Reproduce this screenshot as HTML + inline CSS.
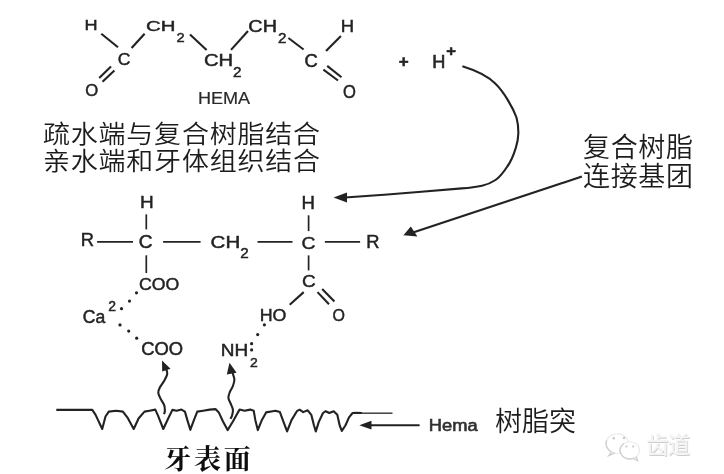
<!DOCTYPE html>
<html><head><meta charset="utf-8">
<style>
html,body{margin:0;padding:0;background:#fff;}
svg{display:block}
.t{font-family:"Liberation Sans",sans-serif;font-size:17px;fill:#2a2a2a;}
.s{font-family:"Liberation Sans",sans-serif;font-size:14px;fill:#2a2a2a;}
.cj{font-family:"Liberation Sans","Noto Sans CJK SC",sans-serif;font-weight:350;fill:#1c1c1c;}
.l{stroke:#222;stroke-width:2.1;fill:none;stroke-linecap:butt}
.d{fill:#222}
</style></head>
<body>
<svg width="724" height="474" viewBox="0 0 724 474">
<defs><filter id="bl" x="0" y="0" width="724" height="474" filterUnits="userSpaceOnUse"><feGaussianBlur stdDeviation="0.45"/></filter><filter id="bl2" x="0" y="0" width="724" height="474" filterUnits="userSpaceOnUse"><feGaussianBlur stdDeviation="0.25"/></filter></defs>
<rect width="724" height="474" fill="#fff"/>
<g filter="url(#bl)">
<!-- labels -->
<g font-family="'Liberation Sans',sans-serif">
<text transform="translate(84.47,30.27) scale(1.185,1)" font-size="15.29" fill="#222222" stroke="#222222" stroke-width="0.45">H</text>
<text transform="translate(146.11,30.52) scale(1.319,1)" font-size="15.42" fill="#222222" stroke="#222222" stroke-width="0.45">CH</text>
<text transform="translate(176.39,41.67) scale(1.106,1)" font-size="13.21" fill="#222222" stroke="#222222" stroke-width="0.45">2</text>
<text transform="translate(117.75,64.61) scale(1.033,1)" font-size="16.97" fill="#222222" stroke="#222222" stroke-width="0.45">C</text>
<text transform="translate(85.17,95.61) scale(0.985,1)" font-size="16.97" fill="#222222" stroke="#222222" stroke-width="0.45">O</text>
<text transform="translate(204.02,65.71) scale(1.252,1)" font-size="16.13" fill="#222222" stroke="#222222" stroke-width="0.45">CH</text>
<text transform="translate(233.06,76.88) scale(1.097,1)" font-size="13.93" fill="#222222" stroke="#222222" stroke-width="0.45">2</text>
<text transform="translate(248.33,31.82) scale(1.239,1)" font-size="15.99" fill="#222222" stroke="#222222" stroke-width="0.45">CH</text>
<text transform="translate(277.96,42.58) scale(1.086,1)" font-size="14.07" fill="#222222" stroke="#222222" stroke-width="0.45">2</text>
<text transform="translate(197.95,103.60) scale(1.114,1)" font-size="16.23" fill="#2a2a2a" stroke="#2a2a2a" stroke-width="0.2">HEMA</text>
<text transform="translate(340.65,32.17) scale(1.104,1)" font-size="16.74" fill="#222222" stroke="#222222" stroke-width="0.45">H</text>
<text transform="translate(304.51,67.20) scale(1.046,1)" font-size="17.54" fill="#222222" stroke="#222222" stroke-width="0.45">C</text>
<text transform="translate(342.98,98.20) scale(0.945,1)" font-size="17.54" fill="#222222" stroke="#222222" stroke-width="0.45">O</text>
<text transform="translate(432.14,67.70) scale(0.997,1)" font-size="18.26" fill="#262626" stroke="#262626" stroke-width="0.6">H</text>
<text transform="translate(140.10,208.18) scale(1.156,1)" font-size="16.45" fill="#222222" stroke="#222222" stroke-width="0.45">H</text>
<text transform="translate(80.75,245.88) scale(1.054,1)" font-size="17.46" fill="#222222" stroke="#222222" stroke-width="0.45">R</text>
<text transform="translate(138.87,247.89) scale(1.049,1)" font-size="18.24" fill="#222222" stroke="#222222" stroke-width="0.45">C</text>
<text transform="translate(138.94,289.91) scale(1.042,1)" font-size="16.97" fill="#222222" stroke="#222222" stroke-width="0.45">COO</text>
<text transform="translate(210.60,247.91) scale(1.208,1)" font-size="16.97" fill="#222222" stroke="#222222" stroke-width="0.45">CH</text>
<text transform="translate(240.36,257.98) scale(1.043,1)" font-size="14.64" fill="#222222" stroke="#222222" stroke-width="0.45">2</text>
<text transform="translate(301.43,208.68) scale(1.060,1)" font-size="17.61" fill="#222222" stroke="#222222" stroke-width="0.45">H</text>
<text transform="translate(301.46,248.51) scale(1.136,1)" font-size="16.97" fill="#222222" stroke="#222222" stroke-width="0.45">C</text>
<text transform="translate(366.15,248.38) scale(1.054,1)" font-size="17.46" fill="#222222" stroke="#222222" stroke-width="0.45">R</text>
<text transform="translate(301.98,287.21) scale(1.127,1)" font-size="16.83" fill="#222222" stroke="#222222" stroke-width="0.45">C</text>
<text transform="translate(332.61,320.80) scale(0.927,1)" font-size="17.25" fill="#222222" stroke="#222222" stroke-width="0.45">O</text>
<text transform="translate(259.70,320.51) scale(1.052,1)" font-size="16.97" fill="#222222" stroke="#222222" stroke-width="0.45">HO</text>
<text transform="translate(82.75,322.70) scale(0.995,1)" font-size="17.68" fill="#222222" stroke="#222222" stroke-width="0.45">Ca</text>
<text transform="translate(108.13,310.98) scale(1.002,1)" font-size="13.93" fill="#222222" stroke="#222222" stroke-width="0.45">2</text>
<text transform="translate(141.21,354.50) scale(1.048,1)" font-size="17.54" fill="#222222" stroke="#222222" stroke-width="0.45">COO</text>
<text transform="translate(220.70,355.98) scale(1.156,1)" font-size="16.45" fill="#222222" stroke="#222222" stroke-width="0.45">NH</text>
<text transform="translate(250.03,366.77) scale(1.068,1)" font-size="13.07" fill="#222222" stroke="#222222" stroke-width="0.45">2</text>
<text transform="translate(398.67,67.31) scale(1.010,1)" font-size="16.86" font-weight="bold" fill="#222222" stroke="#222222" stroke-width="0.5">+</text>
<text transform="translate(446.18,56.40) scale(1.088,1)" font-size="15.29" font-weight="bold" fill="#222222" stroke="#222222" stroke-width="0.5">+</text>
<text transform="translate(428.83,430.54) scale(1.116,1)" font-size="16.43" fill="#303030" stroke="#303030" stroke-width="0.6">Hema</text>
</g>
<!-- upper molecule -->
<g class="l">
<line x1="101.3" y1="33.7" x2="118" y2="47.3"/>
<line x1="131.6" y1="48" x2="144.6" y2="33.7"/>
<line x1="190" y1="34.4" x2="206.6" y2="49.9"/>
<line x1="231" y1="49.9" x2="248" y2="31"/>
<line x1="288.4" y1="38" x2="303.6" y2="49.5"/>
<line x1="326" y1="51" x2="340.9" y2="36.1"/>
<!-- left C=O -->
<line x1="111" y1="66.6" x2="99.2" y2="78"/>
<line x1="114.4" y1="70.4" x2="102.5" y2="81.8"/>
<!-- right C=O -->
<line x1="327.2" y1="65.9" x2="341.5" y2="77.3"/>
<line x1="323.4" y1="69.7" x2="338" y2="80.5"/>
</g>
<!-- curved arrow from H+ -->
<path class="l" stroke-width="2.3" d="M462.4 66.2 C478 71 490 78 495.5 83.8 C504 92 513 108 516.5 117.5 C519 127 519 138 515.8 147.9 C513 157 510 163 507.3 166.5 C503 173 500 177 495.5 180 C491 183 487 184.7 482 185.7 C475 187.3 470 187.8 461.8 188.4 L421.3 191.8 L387.5 194.5 L345 197.5"/>
<polygon class="d" points="333.5,197.5 347,192.5 347,202.5"/>
<!-- straight arrow -->
<line class="l" x1="581.9" y1="176.5" x2="413" y2="232.6" stroke-width="2.3"/>
<polygon class="d" points="403.4,235.3 410.8,226.4 417.4,236.4"/>
<!-- lower molecule -->
<g class="l">
<line x1="146.3" y1="214.4" x2="146.3" y2="229.4" stroke-width="1.7"/>
<line x1="97.1" y1="241.8" x2="133" y2="241.8" stroke-width="1.7"/>
<line x1="163.1" y1="241.8" x2="200.6" y2="241.8" stroke-width="1.7"/>
<line x1="257.5" y1="241.8" x2="292.5" y2="241.8" stroke-width="1.7"/>
<line x1="146.3" y1="255.3" x2="146.3" y2="273" stroke-width="1.7"/>
<line x1="308.6" y1="215.3" x2="308.6" y2="231.1" stroke-width="1.7"/>
<line x1="324.9" y1="241.8" x2="360.1" y2="241.8" stroke-width="1.7"/>
<line x1="308.6" y1="255.4" x2="308.6" y2="270.4" stroke-width="1.7"/>
<line x1="303.7" y1="292.1" x2="289.7" y2="304.7"/>
<line x1="317.5" y1="292.1" x2="329" y2="304.2"/>
<line x1="322.2" y1="289" x2="334.4" y2="301.4"/>
</g>
<g class="d">
<circle cx="136.5" cy="292.8" r="1.6"/>
<circle cx="129.5" cy="301.1" r="1.6"/>
<circle cx="121.5" cy="308.7" r="1.6"/>
<circle cx="120" cy="324.9" r="1.6"/>
<circle cx="128.7" cy="331.1" r="1.6"/>
<circle cx="136.7" cy="338.2" r="1.6"/>
<circle cx="264.4" cy="324.8" r="1.6"/>
<circle cx="257.7" cy="334.6" r="1.6"/>
<circle cx="251.6" cy="343.7" r="1.6"/>
<circle cx="251.6" cy="349.9" r="1.6"/>
</g>
<!-- squiggle arrows -->
<path class="l" stroke-linecap="round" d="M166.4 369.5 C166.5 370.3 167.6 372.3 167.2 374.2 C166.8 376.1 165.4 378.6 164.2 380.8 C163.0 383.0 160.8 385.5 159.8 387.5 C158.8 389.5 158.2 390.8 158.3 392.7 C158.4 394.6 159.5 396.5 160.5 398.6 C161.5 400.7 163.5 403.1 164.2 405.2 C164.9 407.3 164.9 409.6 164.9 411.1 C164.9 412.6 164.1 413.6 163.9 414.1"/>
<polygon class="d" points="162,360.4 162.2,371.6 170.5,368.8"/>
<path class="l" stroke-linecap="round" d="M232.6 373.0 C232.9 374.1 234.3 377.2 234.4 379.4 C234.5 381.6 233.7 383.9 232.9 386.0 C232.2 388.1 230.7 389.9 229.9 391.9 C229.2 393.9 228.3 395.8 228.4 397.8 C228.5 399.8 229.9 401.7 230.7 403.7 C231.4 405.7 232.7 407.6 232.9 409.6 C233.1 411.6 232.5 414.1 232.1 415.6 C231.7 417.1 230.7 418.3 230.4 418.8"/>
<polygon class="d" points="229.5,362.8 226.8,374.4 236.6,372.8"/>
<!-- tooth surface -->
<path class="l" stroke-linejoin="round" stroke-width="2.3" d="M56.3 409.9 L92.3 409.9 L95.6 414.9 L102.2 429 L105.5 416.5 L108.8 411.6 L116.3 410.7 L122.9 411.6 L127.9 418.2 L133.7 429 L138.7 418.2 L144.5 411.6 L149.5 410.7 L155.3 409.6 L157.7 414.9 L163.3 429 L168.3 418.2 L172.4 409.9 L176.6 410.7 L181.5 409.6 L184.9 411.6 L187.3 419.9 L190.3 429.8 L194 419.9 L197.3 411.6 L203.1 410.7 L209.7 409.6 L215.5 409.1 L218.8 412.4 L223 421.5 L227.6 430.1 L232.9 421.5 L237.9 412.4 L239.6 409.6 L244.5 410.7 L250.3 409.6 L253.7 410.7 L255.3 419.9 L257.8 430.1 L261.9 419.9 L266.1 412.4 L272.7 411.2 L275.4 410.8 L279.9 412.1 L283.5 421.9 L287.1 431.4 L291.5 420.1 L296.9 411.2 L299.6 409.7 L303.2 412.1 L307.7 410.3 L311.3 414.8 L314 425.5 L315.8 431.4 L318.8 421.9 L323 413 L325.7 411.2 L329.3 413 L333.7 411.2 L337.3 414.8 L339.7 425.5 L341.8 430.9 L345.4 425.5 L349 417.4 L352.6 413 L356.2 412.8 L362 413"/>
<line x1="361" y1="413.2" x2="392.5" y2="413.2" stroke="#333" stroke-width="1.4"/>
<!-- Hema arrow -->
<line class="l" x1="371" y1="425.2" x2="419.6" y2="425.2" stroke-width="2.3"/>
<polygon class="d" points="359.3,425.2 371.5,420.8 371.5,429.6"/>
<!-- bottom label -->
<text x="164.3" y="469" font-family="'Liberation Serif','Noto Serif CJK SC',serif" font-weight="bold" font-size="27" fill="#111" textLength="86.5" lengthAdjust="spacing">牙表面</text>
<!-- watermark -->
<g fill="none" stroke="#e9e9e9" stroke-width="1.1">
<ellipse cx="617.3" cy="443.6" rx="11.3" ry="9.9"/>
<ellipse cx="629.8" cy="450.4" rx="9.8" ry="8.6" fill="#fff"/>
</g>
<g fill="none" stroke="#cfcfcf" stroke-width="1.3" stroke-linecap="round">
<path d="M606.6 440.5 A11.3 9.9 0 0 0 611.5 452 L608.8 455.6 L614.5 453.2"/>
<path d="M623.6 443.8 A9.8 8.6 0 0 0 629.8 459 A9.8 8.6 0 0 0 633.5 458.4 L637.6 460.6 L636.4 457"/>
</g>
<g fill="#c6c6c6"><circle cx="613.8" cy="438.3" r="1.2"/><circle cx="624" cy="438" r="1.2"/><circle cx="626.4" cy="446.5" r="1.1"/><circle cx="633.2" cy="446.5" r="1.1"/></g>
<g font-family="'Liberation Sans','Noto Sans CJK SC',sans-serif" font-size="22.5" font-weight="500">
<text x="647" y="453.6" fill="#cdcdcd" textLength="44" lengthAdjust="spacing">齿道</text>
<text x="646.3" y="452.9" fill="#f4f4f4" textLength="44" lengthAdjust="spacing">齿道</text>
</g>
</g>
<!-- Chinese captions -->
<g class="cj" font-size="27" filter="url(#bl2)">
<text transform="translate(43,142.7) scale(1,0.92)" textLength="277" lengthAdjust="spacing">疏水端与复合树脂结合</text>
<text transform="translate(43,169.8) scale(1,0.92)" textLength="277" lengthAdjust="spacing">亲水端和牙体组织结合</text>
<text x="583" y="157" textLength="110" lengthAdjust="spacing">复合树脂</text>
<text x="583" y="186" textLength="110" lengthAdjust="spacing">连接基团</text>
<text x="495" y="431" textLength="81" lengthAdjust="spacing">树脂突</text>
</g>
</svg>
</body></html>
